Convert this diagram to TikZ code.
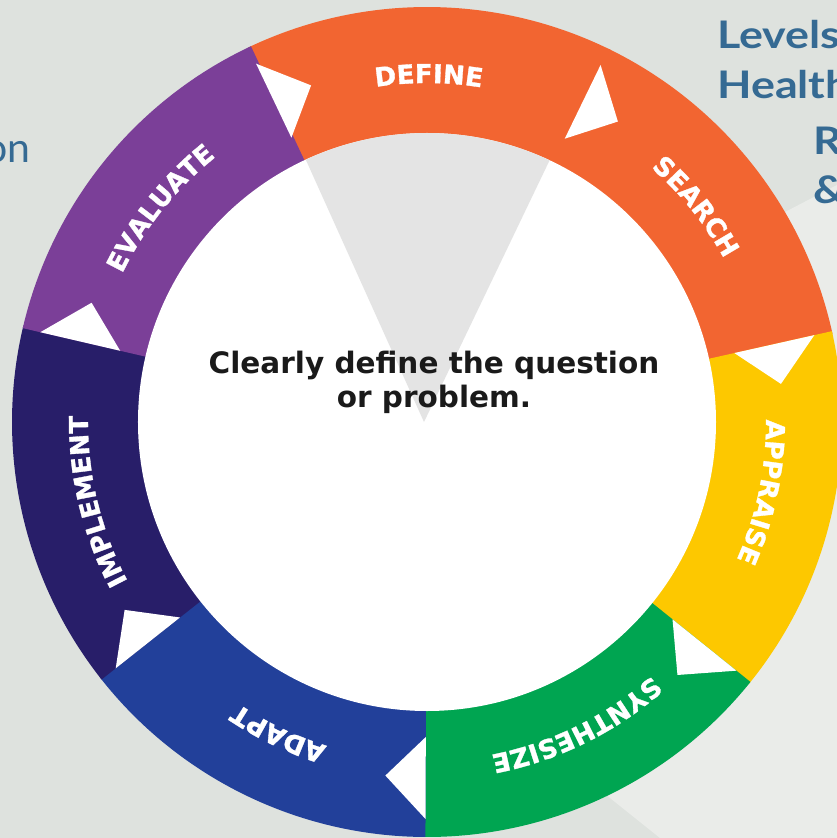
\documentclass[tikz,border=0pt]{standalone}
\usepackage{fontspec}
\usetikzlibrary{decorations.text}
\newfontfamily\dvs{DejaVu Sans}
\newfontfamily\dvsheavy[FakeBold=1.2]{DejaVu Sans}
\newfontfamily\latof{Lato}
\newfontfamily\latow[FakeStretch=1.18]{Lato}
\definecolor{bgc}{HTML}{DEE2DE}
\definecolor{bglight}{HTML}{EAECE9}
\definecolor{cdef}{HTML}{F26531}
\definecolor{capp}{HTML}{FDC800}
\definecolor{csyn}{HTML}{00A551}
\definecolor{cada}{HTML}{22409A}
\definecolor{cimp}{HTML}{281E69}
\definecolor{ceva}{HTML}{7B3F98}
\definecolor{wedgegrey}{HTML}{E4E4E4}
\definecolor{tblue}{HTML}{356A93}
\definecolor{qtext}{HTML}{1A1A1A}
\newcommand\lblfont{\dvsheavy\bfseries\fontsize{26}{30}\selectfont}
\newcommand\ctrfont{\dvs\bfseries\fontsize{29.5}{33}\selectfont}
\newcommand\titlefont{\latow\bfseries\fontsize{38}{40}\selectfont}
\newcommand\sidefont{\latof\fontsize{41}{44}\selectfont}
\tikzset{
  seglabel/.style={decorate, decoration={text along path, text align=center, text color=white}},
  toptext/.style={anchor=base west, inner sep=0pt, text=tblue, font=\titlefont},
}
\begin{document}
\begin{tikzpicture}[x=1pt,y=1pt]
\clip (-427,-416) rectangle (410,422);
\fill[bgc] (-427,-416) rectangle (410,422);
\fill[bglight] (333,197) -- (410,237) -- (410,-416) -- (233,-416) -- (73,-288) -- cycle;
% ring segments
\foreach \c [count=\i from 0] in {cdef,cdef,capp,csyn,cada,cimp,ceva} {
  \pgfmathsetmacro\a{115.5-51.4286*\i}
  \pgfmathsetmacro\b{\a-51.4286-0.4}
  \fill[\c] (0,0) -- (\a:415) arc[start angle=\a, end angle=\b, radius=415] -- cycle;
}
% white arrow notches
\foreach \i in {0,...,6} {
  \pgfmathsetmacro\a{115.5-51.4286*\i}
  \pgfmathsetmacro\p{\a-6.5}
  \fill[white] (\a:315) -- (\a:397) -- (\p:356) -- cycle;
}
% inner disc and highlight wedge
\fill[white] (0,0) circle[radius=289];
\fill[wedgegrey] (-3,0) -- (114.8:289) arc[start angle=114.8, end angle=64.9, radius=289] -- cycle;
% segment labels
\path[seglabel, decoration={text={|\lblfont|DEFINE}}] (129.7:339) arc[start angle=129.7, end angle=49.7, radius=339];
\path[seglabel, decoration={text={|\lblfont|SEARCH}}] (78.7:339) arc[start angle=78.7, end angle=-1.3, radius=339];
\path[seglabel, decoration={text={|\lblfont|APPRAISE}}] (28.2:339) arc[start angle=28.2, end angle=-51.8, radius=339];
\path[seglabel, decoration={text={|\lblfont|SYNTHESIZE}}] (-23.8:339) arc[start angle=-23.8, end angle=-103.8, radius=339];
\path[seglabel, decoration={text={|\lblfont|ADAPT}}] (-75.5:339) arc[start angle=-75.5, end angle=-155.5, radius=339];
\path[seglabel, decoration={text={|\lblfont|IMPLEMENT}}] (-126.5:339) arc[start angle=-126.5, end angle=-206.5, radius=339];
\path[seglabel, decoration={text={|\lblfont|EVALUATE}}] (181.3:339) arc[start angle=181.3, end angle=101.3, radius=339];
% centre text
\node[anchor=base, inner sep=0pt, font=\ctrfont, text=qtext] (q1) at (7,48) {Clearly define the question};
\node[anchor=base, inner sep=0pt, font=\ctrfont, text=qtext] (q2) at (7,15) {or problem.};
% slide title fragments
\node[toptext] (t1) at (290,373) {Levels};
\node[toptext] (t2) at (290,323) {Health};
\node[toptext] (t3) at (386,267) {R};
\node[toptext] (t4) at (386,218) {\&};
\node[anchor=base east, inner sep=0pt, text=tblue, font=\sidefont] (s1) at (-396,259) {on};
\end{tikzpicture}
\end{document}
